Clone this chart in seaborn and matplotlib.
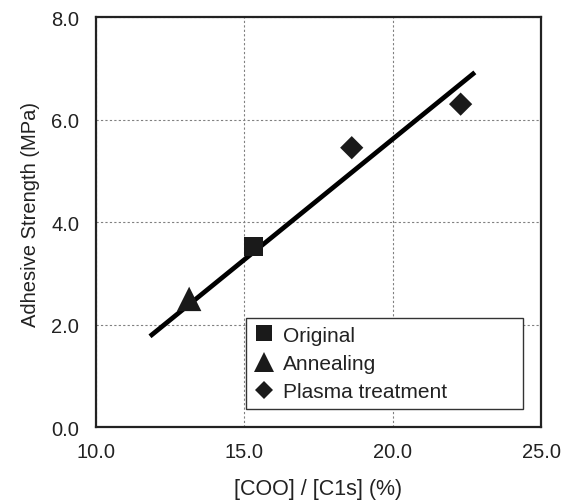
import matplotlib
matplotlib.use("Agg")
import matplotlib.pyplot as plt
import seaborn as sns
import pandas as pd

# ---- data ----
treatments = ["Original", "Annealing", "Plasma treatment", "Plasma treatment"]
coo_ratio = [15.30, 13.14, 18.62, 22.29]
adhesive_strength = [3.53, 2.50, 5.45, 6.30]
fit_x = [11.82, 22.77]
fit_y = [1.77, 6.92]
x_ticks = [10.0, 15.0, 20.0, 25.0]
y_ticks = [0.0, 2.0, 4.0, 6.0, 8.0]

df = pd.DataFrame({"x": coo_ratio, "y": adhesive_strength, "Treatment": treatments})
fit_df = pd.DataFrame({"x": fit_x, "y": fit_y})

sns.set_style("white")
plt.rcParams["font.family"] = ["Liberation Sans", "DejaVu Sans"]

fig = plt.figure(figsize=(5.71, 5.02), dpi=100)
ax = fig.add_axes([0.1681, 0.1474, 0.9475 - 0.1681, 0.9641 - 0.1474])

sns.lineplot(data=fit_df, x="x", y="y", color="black", linewidth=3.4, ax=ax,
             legend=False, solid_capstyle="butt", zorder=3)
sns.scatterplot(data=df, x="x", y="y", style="Treatment", size="Treatment",
                markers={"Original": "s", "Annealing": "^", "Plasma treatment": "D"},
                sizes={"Original": 190, "Annealing": 310, "Plasma treatment": 140},
                color="#1a1a1a", edgecolor="none", linewidth=0, ax=ax, zorder=4)

ax.set_xlim(10, 25)
ax.set_ylim(0, 8)
ax.set_xticks(x_ticks)
ax.set_yticks(y_ticks)
ax.set_xticklabels([f"{v:.1f}" for v in x_ticks])
ax.set_yticklabels([f"{v:.1f}" for v in y_ticks])
ax.tick_params(axis="both", length=0, labelsize=14.5, colors="#222222")
ax.tick_params(axis="x", pad=11)
ax.tick_params(axis="y", pad=12)
ax.grid(True, linestyle=(0, (2, 2)), color="#808080", linewidth=0.8)
ax.set_axisbelow(True)
for sp in ax.spines.values():
    sp.set_linewidth(1.6)
    sp.set_color("#222222")
    sp.set_visible(True)

ax.set_xlabel("[COO] / [C1s] (%)", fontsize=15.5, color="#222222", labelpad=12)
ax.set_ylabel("Adhesive Strength (MPa)", fontsize=14.5, color="#222222", labelpad=8)
ax.yaxis.label.set_y(0.52)

handles, labels = ax.get_legend_handles_labels()
leg = ax.legend(handles, labels, loc="lower left",
                bbox_to_anchor=(0.337, 0.043, 0.622, 0.225), mode="expand",
                borderaxespad=0, fontsize=15, frameon=True, fancybox=False,
                framealpha=1, edgecolor="#333333", labelspacing=0.45,
                handlelength=1.0, handletextpad=0.4, borderpad=0.38,
                markerscale=0.8)
leg.get_frame().set_linewidth(1.0)
for t in leg.get_texts():
    t.set_color("#222222")

fig.savefig("out.png", dpi=100)
